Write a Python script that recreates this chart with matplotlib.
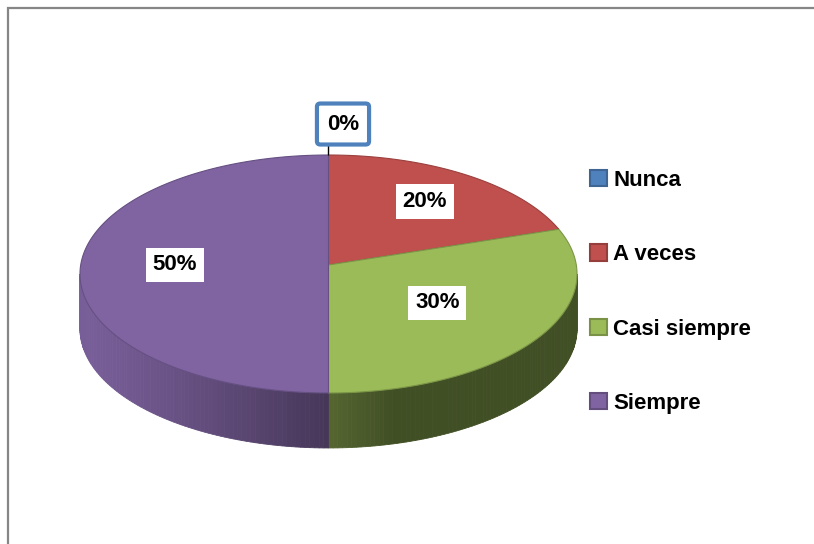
import numpy as np
import matplotlib.pyplot as plt
import matplotlib.colors as mcolors
from matplotlib.patches import Polygon, Patch

labels = ['Nunca', 'A veces', 'Casi siempre', 'Siempre']
values = [0, 20, 30, 50]
colors = ['#4F81BD', '#C0504D', '#9BBB59', '#8064A2']

plt.rcParams['font.family'] = ['Liberation Sans', 'DejaVu Sans']

# pie geometry in pixels (perspective-tilted disc)
CX, CY = 328.5, 265.0
RX, RY = 247.8, 118.3
K = 0.0756
DEPTH = 55
label_r = [1.0, 0.69, 0.53, 0.62]


def proj(theta, r=1.0):
    u = r * np.sin(theta)
    v = r * np.cos(theta)
    d = 1 + K * v
    return CX + RX * u / d, CY - RY * v / d


def shade(color, theta):
    light = np.array([-1.0, -0.25])
    light = light / np.linalg.norm(light)
    n = np.array([np.sin(theta), np.cos(theta)])
    f = 0.42 + 0.52 * max(0.0, n.dot(light))
    return tuple(np.array(mcolors.to_rgb(color)) * f)


fig = plt.figure(figsize=(8.14, 5.44), dpi=100)
ax = fig.add_axes([0, 0, 1, 1])
ax.set_xlim(0, 814)
ax.set_ylim(544, 0)
ax.axis('off')

# chart area border (top and left only visible)
ax.plot([8, 8, 814], [544, 8, 8], color='#868686', lw=1.6, solid_joinstyle='miter')

total = float(sum(values))
bounds = np.concatenate([[0], np.cumsum(values)]) / total * 2 * np.pi

# side walls, visible front part only
s_lo = np.arccos(-K)
s_hi = 2 * np.pi - s_lo
for i, c in enumerate(colors):
    a, b = max(bounds[i], s_lo), min(bounds[i + 1], s_hi)
    if b <= a:
        continue
    steps = np.linspace(a, b, int(np.degrees(b - a)) + 2)
    for t0, t1 in zip(steps[:-1], steps[1:]):
        x0, y0 = proj(t0)
        x1, y1 = proj(t1)
        col = shade(c, 0.5 * (t0 + t1))
        ax.add_patch(Polygon([(x0, y0), (x1, y1), (x1, y1 + DEPTH), (x0, y0 + DEPTH)],
                             closed=True, facecolor=col, edgecolor=col, lw=0.6, zorder=1))

# top faces
for i, c in enumerate(colors):
    if values[i] == 0:
        continue
    th = np.linspace(bounds[i], bounds[i + 1], 200)
    pts = [(CX, CY)] + [proj(t) for t in th]
    edge = tuple(np.array(mcolors.to_rgb(c)) * 0.8)
    ax.add_patch(Polygon(pts, closed=True, facecolor=c, edgecolor=edge, lw=0.8, zorder=2))

# data labels
for i, v in enumerate(values):
    mid = 0.5 * (bounds[i] + bounds[i + 1])
    txt = '%d%%' % v
    if v == 0:
        ax.annotate(txt, xy=proj(mid), xytext=(14.5, 31), textcoords='offset pixels',
                    ha='center', va='center', fontsize=16, fontweight='bold', zorder=5,
                    bbox=dict(boxstyle='round,pad=0.45,rounding_size=0.15', fc='white',
                              ec=colors[0], lw=3),
                    arrowprops=dict(arrowstyle='-', color='black', lw=1, shrinkA=0, shrinkB=0,
                                    relpos=(0.05, 0)))
    else:
        x, y = proj(mid, label_r[i])
        ax.text(x, y, txt, ha='center', va='center', fontsize=16, fontweight='bold', zorder=5,
                bbox=dict(boxstyle='square,pad=0.3', fc='white', ec='none'))

handles = [Patch(facecolor=c, edgecolor=tuple(np.array(mcolors.to_rgb(c)) * 0.78), lw=1.5)
           for c in colors]
ax.legend(handles, labels, loc='upper left', bbox_to_anchor=(590, 170),
          bbox_transform=ax.transData, frameon=False, borderpad=0, borderaxespad=0,
          handlelength=0.75, handleheight=0.75, handletextpad=0.3, labelspacing=2.4,
          prop={'size': 16, 'weight': 'bold'})

fig.savefig('out.png', dpi=100)
